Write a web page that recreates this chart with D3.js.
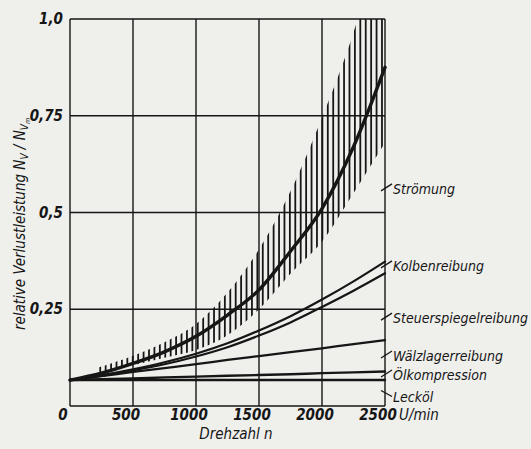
<!DOCTYPE html>
<html><head><meta charset="utf-8">
<script src="https://cdn.jsdelivr.net/npm/d3@7"></script>
<style>
html,body{margin:0;padding:0;background:#efefec;}
svg{display:block;}
text{font-family:"DejaVu Sans Condensed","Liberation Sans Narrow","DejaVu Sans",sans-serif;font-stretch:condensed;font-style:italic;fill:#161616;}
</style></head><body>
<svg id="c" width="531" height="449"></svg>
<script>
// ---- data ----
const rpm = [0,250,500,750,1000,1250,1500,1750,2000,2250,2500];
const leckoel        = [0.067,0.067,0.067,0.067,0.067,0.067,0.067,0.067,0.067,0.067,0.067];
const oelkompression = [0.067,0.069,0.071,0.074,0.076,0.078,0.080,0.082,0.085,0.087,0.089];
const waelzlager     = [0.067,0.077,0.088,0.098,0.108,0.119,0.129,0.139,0.149,0.160,0.170];
const steuerspiegel  = [0.067,0.078,0.092,0.108,0.128,0.152,0.182,0.216,0.256,0.298,0.343];
const kolben         = [0.067,0.080,0.095,0.113,0.135,0.162,0.195,0.232,0.275,0.322,0.373];
const stroemung      = [0.067,0.085,0.110,0.140,0.180,0.235,0.300,0.400,0.510,0.670,0.875];
// scatter band of Strömung (hatched)
const bandRpm   = [230,500,750,1000,1250,1500,1750,2000,2250,2500];
const bandUpper = [0.100,0.130,0.165,0.212,0.293,0.405,0.555,0.745,0.965,1.250];
const bandLower = [0.083,0.105,0.125,0.145,0.183,0.250,0.342,0.425,0.550,0.680];
const hatchStart = 240, hatchStep = 43;
const xTicks = [0,500,1000,1500,2000,2500];
const yTicks = [0,0.25,0.5,0.75,1.0];
const yTickLabels = ["", "0,25", "0,5", "0,75", "1,0"];
const bandLabels = [
  {name:"Strömung", v:0.556},
  {name:"Kolbenreibung", v:0.357},
  {name:"Steuerspiegelreibung", v:0.222},
  {name:"Wälzlagerreibung", v:0.124},
  {name:"Ölkompression", v:0.075},
  {name:"Lecköl", v:0.040, down:true}
];

// ---- drawing ----
const svg = d3.select("#c");
const x = d3.scaleLinear().domain([0,2500]).range([70,385]);
const y = d3.scaleLinear().domain([0,1]).range([406,19]);
const ink = "#161616";

// grid
const g = svg.append("g");
g.selectAll(".vg").data(xTicks).join("line")
  .attr("x1",d=>x(d)).attr("x2",d=>x(d)).attr("y1",y(0)).attr("y2",y(1))
  .attr("stroke",ink).attr("stroke-width",1.4);
g.selectAll(".hg").data(yTicks).join("line")
  .attr("y1",d=>y(d)).attr("y2",d=>y(d)).attr("x1",x(0)).attr("x2",x(2500))
  .attr("stroke",ink).attr("stroke-width",1.4);

// hatch clip
const band = bandRpm.map((n,i)=>({n,u:bandUpper[i],l:bandLower[i]}));
const area = d3.area().x(d=>x(d.n)).y0(d=>y(d.l)).y1(d=>y(Math.min(d.u,1.3))).curve(d3.curveMonotoneX);
const defs = svg.append("defs");
defs.append("clipPath").attr("id","band").append("path").attr("d",area(band));
defs.append("clipPath").attr("id","plot").append("rect")
  .attr("x",x(0)).attr("y",y(1)).attr("width",x(2500)-x(0)).attr("height",y(0)-y(1));
const hatchN = d3.range(hatchStart, 2500, hatchStep);
svg.append("g").attr("clip-path","url(#plot)").append("g").attr("clip-path","url(#band)")
  .selectAll("line").data(hatchN).join("line")
  .attr("x1",d=>x(d)).attr("x2",d=>x(d)).attr("y1",y(0)).attr("y2",y(1.3))
  .attr("stroke",ink).attr("stroke-width",1.8);

// curves
const line = d3.line().x((d,i)=>x(rpm[i])).y(d=>y(d)).curve(d3.curveMonotoneX);
const series = [
  {v:leckoel,w:2.4},{v:oelkompression,w:2.4},{v:waelzlager,w:2.2},
  {v:steuerspiegel,w:2.2},{v:kolben,w:2.2},{v:stroemung,w:3.4}
];
svg.append("g").selectAll("path").data(series).join("path")
  .attr("d",d=>line(d.v)).attr("fill","none").attr("stroke",ink)
  .attr("stroke-width",d=>d.w).attr("stroke-linecap","round");

// x tick labels
svg.append("g").selectAll("text").data(xTicks).join("text")
  .attr("x",d=>x(d)-7).attr("y",420).attr("text-anchor","middle")
  .attr("font-size",15).attr("font-weight","bold").text(d=>d);
svg.append("text").attr("x",x(2500)+14).attr("y",420).attr("font-size",15).text("U/min");
svg.append("text").attr("x",236).attr("y",439).attr("text-anchor","middle").attr("font-size",15)
  .text("Drehzahl n");

// y tick labels
svg.append("g").selectAll("text").data(yTicks).join("text")
  .attr("x",63).attr("y",d=>y(d)+5).attr("text-anchor","end")
  .attr("font-size",15).attr("font-weight","bold").text((d,i)=>yTickLabels[i]);

// y title
const yt = svg.append("text").attr("transform","translate(25,224) rotate(-90)")
  .attr("text-anchor","middle").attr("font-size",15);
yt.append("tspan").text("relative Verlustleistung  N");
yt.append("tspan").attr("font-size",10).attr("dy",3).text("V");
yt.append("tspan").attr("dy",-3).text(" / N");
yt.append("tspan").attr("font-size",10).attr("dy",3).text("V");
yt.append("tspan").attr("font-size",7).attr("dy",2).text("m");

// band labels with leader strokes
const lg = svg.append("g");
bandLabels.forEach(b=>{
  const x0 = x(2500)-4, y0 = y(b.v);
  const dy = b.down ? 6 : -7;
  lg.append("path")
    .attr("d",`M${x0},${y0} L${x0+11},${y0+dy}`)
    .attr("stroke",ink).attr("stroke-width",1.3).attr("fill","none");
  lg.append("text").attr("x",x0+12).attr("y", b.down ? y0+11 : y0+3)
    .attr("font-size",14).text(b.name);
});
</script>
</body></html>
